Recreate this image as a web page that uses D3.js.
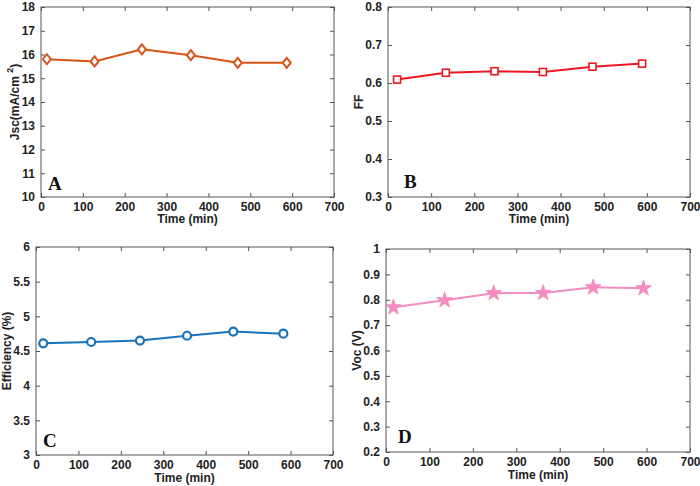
<!DOCTYPE html>
<html><head><meta charset="utf-8">
<script src="https://cdn.jsdelivr.net/npm/d3@7"></script>
<style>body{margin:0;background:#fff}svg{display:block}</style>
</head><body>
<svg id="c" width="700" height="486"></svg>
<script>
const timeA = [14, 128, 241, 358, 470, 587];
const jsc = [15.8, 15.71, 16.22, 15.97, 15.65, 15.65];
const timeB = [21, 134, 247, 359, 474, 589];
const ff = [0.609, 0.627, 0.631, 0.629, 0.643, 0.651];
const timeC = [17, 130, 245, 356, 465, 583];
const eff = [4.61, 4.63, 4.65, 4.72, 4.78, 4.75];
const timeD = [17, 135, 248, 362, 477, 593];
const voc = [0.77, 0.798, 0.826, 0.827, 0.849, 0.845];
const xTicks = [0, 100, 200, 300, 400, 500, 600, 700];
const ticksA = [10, 11, 12, 13, 14, 15, 16, 17, 18];
const ticksB = [0.3, 0.4, 0.5, 0.6, 0.7, 0.8];
const ticksC = [3, 3.5, 4, 4.5, 5, 5.5, 6];
const ticksD = [0.2, 0.3, 0.4, 0.5, 0.6, 0.7, 0.8, 0.9, 1];

const svg = d3.select('#c');
const panels = [
  {x: timeA, y: jsc, yt: ticksA, dom: [10, 18], box: [41, 7, 334, 197], color: '#d95319', marker: 'diamond', letter: 'A', lx: 48, ly: 190, ylab: 'Jsc', ylx: 15, xly: 223},
  {x: timeB, y: ff, yt: ticksB, dom: [0.3, 0.8], box: [388, 7, 690, 197], color: '#ea1a22', marker: 'square', letter: 'B', lx: 404, ly: 188, ylab: 'FF', ylx: 359, xly: 223},
  {x: timeC, y: eff, yt: ticksC, dom: [3, 6], box: [36, 247, 333, 455], color: '#1a72b8', marker: 'circle', letter: 'C', lx: 43, ly: 447, ylab: 'Efficiency (%)', ylx: 7, xly: 482},
  {x: timeD, y: voc, yt: ticksD, dom: [0.2, 1], box: [386, 249, 690, 452], color: '#f38cc0', marker: 'star', letter: 'D', lx: 398, ly: 443, ylab: 'Voc (V)', ylx: 357, xly: 479}
];
const font = 'Liberation Sans, Arial, Helvetica, sans-serif';
const fs = 12;
panels.forEach(p => {
  const [x0, y0, x1, y1] = p.box;
  const xs = d3.scaleLinear().domain([0, 700]).range([x0, x1]);
  const ys = d3.scaleLinear().domain(p.dom).range([y1, y0]);
  const g = svg.append('g');
  g.append('rect').attr('x', x0).attr('y', y0).attr('width', x1 - x0).attr('height', y1 - y0)
    .attr('fill', 'none').attr('stroke', '#555').attr('stroke-width', 1);
  const fmt = d => String(+d.toFixed(2));
  const ax = [
    [d3.axisBottom(xs).tickValues(xTicks).tickSizeInner(-4).tickSizeOuter(0).tickPadding(5).tickFormat(fmt), `translate(0,${y1})`],
    [d3.axisTop(xs).tickValues(xTicks).tickSizeInner(-4).tickSizeOuter(0).tickFormat(''), `translate(0,${y0})`],
    [d3.axisLeft(ys).tickValues(p.yt).tickSizeInner(-4).tickSizeOuter(0).tickPadding(6).tickFormat(fmt), `translate(${x0},0)`],
    [d3.axisRight(ys).tickValues(p.yt).tickSizeInner(-4).tickSizeOuter(0).tickFormat(''), `translate(${x1},0)`]
  ];
  ax.forEach(([a, t]) => {
    const ag = g.append('g').attr('transform', t).call(a);
    ag.select('.domain').remove();
    ag.selectAll('line').attr('stroke', '#555');
    ag.selectAll('text').attr('font-family', font).attr('font-weight', 'bold').attr('font-size', fs).attr('fill', '#222');
  });
  const pts = p.x.map((v, i) => [v, p.y[i]]);
  g.append('path').attr('d', d3.line().x(d => xs(d[0])).y(d => ys(d[1]))(pts))
    .attr('fill', 'none').attr('stroke', p.color).attr('stroke-width', 2);
  pts.forEach(d => {
    const cx = xs(d[0]), cy = ys(d[1]);
    if (p.marker === 'diamond') {
      g.append('path').attr('d', `M${cx},${cy-5}L${cx+4},${cy}L${cx},${cy+5}L${cx-4},${cy}Z`)
        .attr('fill', '#fff').attr('stroke', p.color).attr('stroke-width', 2);
    } else if (p.marker === 'square') {
      g.append('rect').attr('x', cx - 3.5).attr('y', cy - 3.5).attr('width', 7).attr('height', 7)
        .attr('fill', '#fff').attr('stroke', p.color).attr('stroke-width', 1.6);
    } else if (p.marker === 'circle') {
      g.append('circle').attr('cx', cx).attr('cy', cy).attr('r', 4)
        .attr('fill', '#fff').attr('stroke', p.color).attr('stroke-width', 2.2);
    } else {
      g.append('path').attr('transform', `translate(${cx},${cy})`)
        .attr('d', d3.symbol().type(d3.symbolStar).size(75)())
        .attr('fill', p.color).attr('stroke', p.color).attr('stroke-width', 1);
    }
  });
  g.append('text').attr('x', (x0 + x1) / 2).attr('y', p.xly).attr('text-anchor', 'middle')
    .attr('font-family', font).attr('font-weight', 'bold').attr('font-size', fs).attr('fill', '#222').text('Time (min)');
  const yl = g.append('text').attr('transform', `translate(${p.ylx},${(y0 + y1) / 2}) rotate(-90)`)
    .attr('text-anchor', 'middle').attr('dominant-baseline', 'central')
    .attr('font-family', font).attr('font-weight', 'bold').attr('font-size', fs).attr('fill', '#222');
  if (p.ylab === 'Jsc') {
    yl.append('tspan').text('Jsc(mA/cm ');
    yl.append('tspan').attr('dy', -5).attr('font-size', 9).text('2');
    yl.append('tspan').attr('dy', 5).text(')');
  } else yl.text(p.ylab);
  g.append('text').attr('x', p.lx).attr('y', p.ly).attr('font-family', 'Liberation Serif, Times New Roman, serif')
    .attr('font-weight', 'bold').attr('font-size', 19).attr('fill', '#111').text(p.letter);
});
</script>
</body></html>
